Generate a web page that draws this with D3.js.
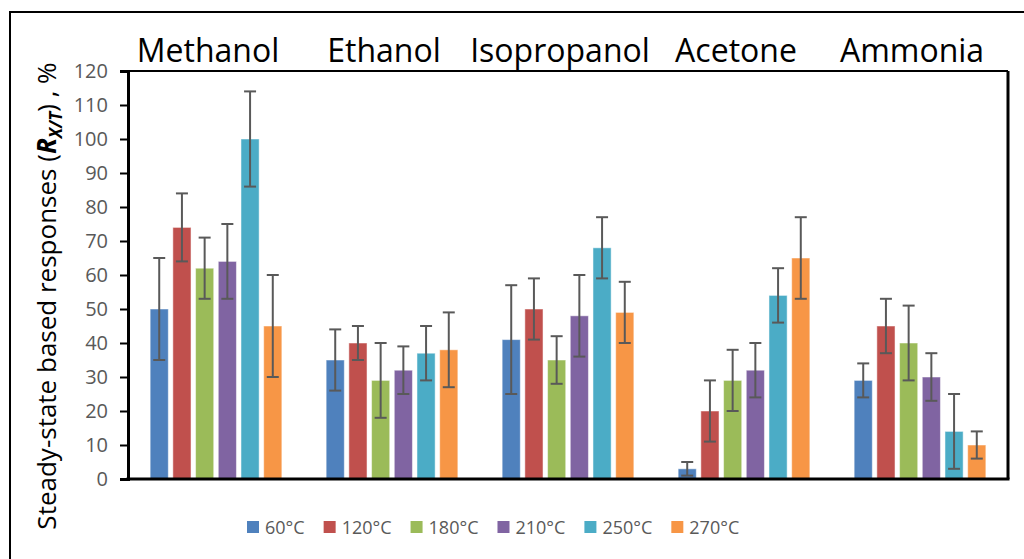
<!DOCTYPE html>
<meta charset="utf-8">
<style>
body { margin: 0; background: #fff; }
</style>
<svg width="1024" height="559"></svg>
<script src="https://cdnjs.cloudflare.com/ajax/libs/d3/7.8.5/d3.min.js"></script>
<script>
var gases = ["Methanol", "Ethanol", "Isopropanol", "Acetone", "Ammonia"];
var temps = ["60°C", "120°C", "180°C", "210°C", "250°C", "270°C"];
var colors = ["#4F81BD", "#C0504D", "#9BBB59", "#8064A2", "#4BACC6", "#F79646"];
// response per gas, one value per temperature
var values = [
  [50, 74, 62, 64, 100, 45],
  [35, 40, 29, 32, 37, 38],
  [41, 50, 35, 48, 68, 49],
  [3, 20, 29, 32, 54, 65],
  [29, 45, 40, 30, 14, 10]
];
// +/- error per bar
var errors = [
  [15, 10, 9, 11, 14, 15],
  [9, 5, 11, 7, 8, 11],
  [16, 9, 7, 12, 9, 9],
  [2, 9, 9, 8, 8, 12],
  [5, 8, 11, 7, 11, 4]
];
var yTicks = d3.range(0, 121, 10);

var font = "'Open Sans', sans-serif";
var svg = d3.select("svg").style("font-family", font),
    margin = {top: 71, right: 16, bottom: 80, left: 128},
    width = 1024 - margin.left - margin.right,
    height = 559 - margin.top - margin.bottom;

// outer frame (runs off the bottom/right of the picture)
svg.append("rect")
    .attr("x", 10).attr("y", 12)
    .attr("width", 1040).attr("height", 600)
    .attr("fill", "none").attr("stroke", "#000").attr("stroke-width", 2);

var g = svg.append("g").attr("transform", "translate(" + margin.left + "," + margin.top + ")");

var x0 = d3.scaleBand().domain(gases).range([0, width]).paddingInner(0.2).paddingOuter(0.1);
var x1 = d3.scaleBand().domain(temps).range([0, x0.bandwidth()]).padding(0.2);
var y = d3.scaleLinear().domain([0, 120]).range([height, 0]);

var rows = gases.map(function(name, i) {
  return {name: name, bars: temps.map(function(t, j) {
    return {temp: t, value: values[i][j], err: errors[i][j], color: colors[j]};
  })};
});

// frame top / right
g.append("line").attr("x1", 0).attr("x2", width).attr("y1", 0).attr("y2", 0)
    .attr("stroke", "#000").attr("stroke-width", 2);
g.append("line").attr("x1", width).attr("x2", width).attr("y1", 0).attr("y2", height)
    .attr("stroke", "#000").attr("stroke-width", 3);

var group = g.selectAll(".group")
  .data(rows)
  .enter().append("g")
    .attr("class", "group")
    .attr("transform", function(d) { return "translate(" + x0(d.name) + ",0)"; });

group.selectAll("rect")
  .data(function(d) { return d.bars; })
  .enter().append("rect")
    .attr("x", function(d) { return x1(d.temp); })
    .attr("y", function(d) { return y(d.value); })
    .attr("width", x1.bandwidth())
    .attr("height", function(d) { return height - y(d.value); })
    .attr("fill", function(d) { return d.color; })
    .attr("stroke", "#fff").attr("stroke-opacity", 0.5).attr("stroke-width", 1);

var eb = group.selectAll(".eb")
  .data(function(d) { return d.bars; })
  .enter().append("g")
    .attr("stroke", "#595959").attr("stroke-width", 2)
    .attr("transform", function(d) { return "translate(" + (x1(d.temp) + x1.bandwidth() / 2) + ",0)"; });
eb.append("line")
    .attr("y1", function(d) { return y(d.value + d.err); })
    .attr("y2", function(d) { return y(Math.max(0, d.value - d.err)); });
eb.append("line").attr("x1", -6).attr("x2", 6)
    .attr("y1", function(d) { return y(d.value + d.err); })
    .attr("y2", function(d) { return y(d.value + d.err); });
eb.append("line").attr("x1", -6).attr("x2", 6)
    .attr("y1", function(d) { return y(Math.max(0, d.value - d.err)); })
    .attr("y2", function(d) { return y(Math.max(0, d.value - d.err)); });

// gas names above the plot
g.selectAll(".gasname")
  .data(gases)
  .enter().append("text")
    .attr("class", "gasname")
    .attr("x", function(d) { return x0(d) + x0.bandwidth() / 2 - 8; })
    .attr("y", -9)
    .attr("text-anchor", "middle")
    .style("font-size", "32px")
    .attr("fill", "#000")
    .text(function(d) { return d; });

var yAxis = g.append("g")
    .call(d3.axisLeft(y).tickValues(yTicks).tickSize(8).tickPadding(12));
yAxis.attr("font-family", null).attr("font-size", null);
yAxis.select(".domain").attr("stroke", "#000").attr("stroke-width", 3);
yAxis.selectAll(".tick line").attr("stroke", "#000").attr("stroke-width", 2);
yAxis.selectAll(".tick text")
    .style("font-family", font).style("font-size", "20px").attr("fill", "#595959");

g.append("line").attr("x1", -1.5).attr("x2", width + 1.5).attr("y1", height).attr("y2", height)
    .attr("stroke", "#000").attr("stroke-width", 3);

// y title
var yt = svg.append("text")
    .attr("transform", "translate(56,296) rotate(-90)")
    .attr("text-anchor", "middle")
    .style("font-size", "26px")
    .attr("fill", "#000");
yt.append("tspan").text("Steady-state based responses (");
yt.append("tspan").style("font-weight", "bold").style("font-style", "italic").text("R");
yt.append("tspan").style("font-weight", "bold").style("font-style", "italic")
    .style("font-size", "17px").attr("dy", 6).text("X/T");
yt.append("tspan").attr("dy", -6).text(") , %");

// legend
var legend = svg.append("g").attr("transform", "translate(247,521)");
var lx = 0;
temps.forEach(function(t, i) {
  var item = legend.append("g").attr("transform", "translate(" + lx + ",0)");
  item.append("rect").attr("width", 12).attr("height", 12).attr("fill", colors[i]);
  var txt = item.append("text").attr("x", 18).attr("y", 13)
      .style("font-size", "18px").attr("fill", "#595959").text(t);
  lx += 18 + txt.node().getComputedTextLength() + 19;
});
</script>
